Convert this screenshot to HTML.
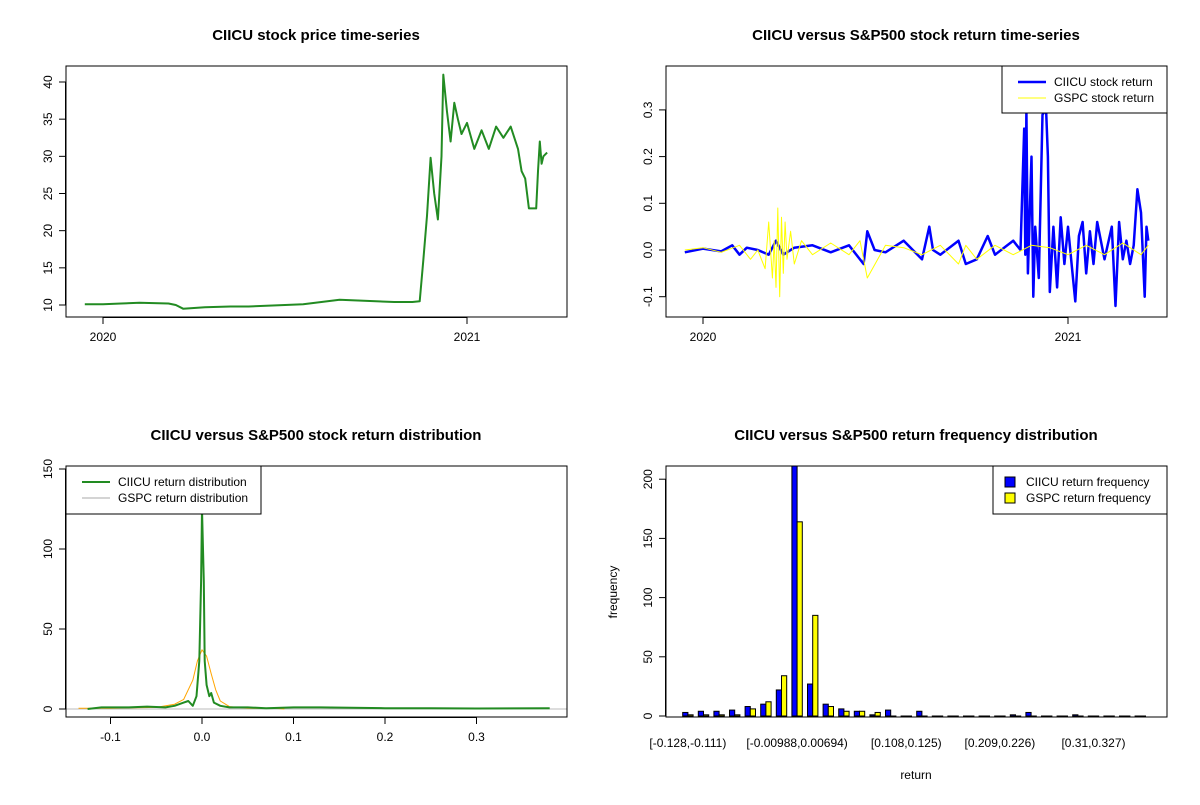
<!DOCTYPE html>
<html><head><meta charset="utf-8"><style>
body{margin:0;background:#fff}
svg{font-family:"Liberation Sans",Arial,sans-serif}
</style></head><body>
<svg id="s" width="1200" height="800" viewBox="0 0 1200 800" xmlns="http://www.w3.org/2000/svg"></svg>
<script>
// ---------- data ----------
const priceT=[2019.95,2020.0,2020.05,2020.1,2020.18,2020.2,2020.22,2020.28,2020.35,2020.4,2020.5,2020.55,2020.6,2020.65,2020.7,2020.75,2020.8,2020.85,2020.87,2020.88,2020.89,2020.9,2020.91,2020.92,2020.93,2020.935,2020.945,2020.955,2020.965,2020.975,2020.985,2021.0,2021.02,2021.04,2021.06,2021.08,2021.1,2021.12,2021.14,2021.15,2021.16,2021.17,2021.19,2021.195,2021.2,2021.205,2021.21,2021.22];
const priceV=[10.1,10.1,10.2,10.3,10.2,10.0,9.5,9.7,9.8,9.8,10.0,10.1,10.4,10.7,10.6,10.5,10.4,10.4,10.5,16,22,29.8,25,21.5,30,41,36,32,37.2,35,33,34.5,31,33.5,31,34,32.5,34,31,28,27,23,23,28,32,29,30,30.5];
const retT=[2019.95,2020.0,2020.05,2020.08,2020.1,2020.12,2020.15,2020.18,2020.2,2020.22,2020.25,2020.3,2020.35,2020.4,2020.44,2020.45,2020.47,2020.5,2020.55,2020.6,2020.62,2020.63,2020.65,2020.7,2020.72,2020.75,2020.78,2020.8,2020.85,2020.87,2020.88,2020.883,2020.886,2020.89,2020.9,2020.905,2020.91,2020.92,2020.93,2020.94,2020.945,2020.95,2020.96,2020.97,2020.98,2020.99,2021.0,2021.01,2021.02,2021.03,2021.04,2021.05,2021.06,2021.07,2021.08,2021.1,2021.12,2021.13,2021.14,2021.15,2021.16,2021.17,2021.18,2021.19,2021.2,2021.21,2021.215,2021.22];
const ciicuRet=[-0.005,0.003,-0.003,0.01,-0.01,0.005,0,-0.01,0.02,-0.01,0.005,0.01,-0.005,0.01,-0.03,0.04,0.0,-0.005,0.02,-0.02,0.05,0,-0.01,0.02,-0.03,-0.02,0.03,-0.01,0.02,0,0.26,-0.01,0.3,-0.05,0.2,-0.1,0.05,-0.06,0.29,0.3,0.2,-0.09,0.05,-0.08,0.07,-0.03,0.05,-0.03,-0.11,0.03,0.06,-0.05,0.04,-0.03,0.06,-0.02,0.05,-0.12,0.06,-0.02,0.02,-0.03,0.01,0.13,0.08,-0.1,0.05,0.02];
const gspcT=[2019.95,2020.0,2020.05,2020.1,2020.13,2020.15,2020.17,2020.18,2020.19,2020.195,2020.2,2020.205,2020.21,2020.215,2020.22,2020.225,2020.23,2020.24,2020.25,2020.27,2020.3,2020.35,2020.4,2020.43,2020.45,2020.5,2020.55,2020.6,2020.65,2020.7,2020.72,2020.75,2020.8,2020.85,2020.9,2020.95,2021.0,2021.05,2021.1,2021.15,2021.2,2021.22];
const gspcRet=[0.0,0.005,-0.005,0.01,-0.02,0.0,-0.04,0.06,-0.06,0.02,-0.08,0.09,-0.1,0.07,-0.05,0.06,-0.02,0.04,-0.03,0.02,-0.01,0.015,-0.01,0.02,-0.06,0.01,0.005,-0.01,0.01,-0.03,0.01,-0.02,0.01,-0.01,0.01,0.005,-0.01,0.01,-0.01,0.015,-0.01,0.01];
const densX=[-0.125,-0.11,-0.1,-0.08,-0.06,-0.04,-0.03,-0.02,-0.015,-0.01,-0.006,-0.003,-0.001,0,0.002,0.003,0.005,0.008,0.01,0.013,0.02,0.03,0.05,0.07,0.1,0.13,0.2,0.25,0.3,0.38];
const densCIICU=[0,1,1,1,1.5,1,2,4,5,2,8,30,80,125,80,30,15,8,10,4,2,1,1,0.5,1,1,0.5,0.5,0.3,0.5];
const densGX=[-0.135,-0.1,-0.05,-0.03,-0.02,-0.01,-0.005,0,0.005,0.01,0.015,0.02,0.03,0.05,0.08,0.09];
const densGSPC=[0.5,0.5,1,3,6,18,30,37,33,22,12,5,1.5,0.5,0.5,0];
const binLabels=["[-0.128,-0.111)","[-0.00988,0.00694)","[0.108,0.125)","[0.209,0.226)","[0.31,0.327)"];
const binLabelIdx=[0,7,14,20,26];
const freqCIICU=[3,4,4,5,8,10,22,240,27,10,6,4,1,5,0,4,0,0,0,0,0,1,3,0,0,1,0,0,0,0];
const freqGSPC=[1,1,1,1,6,12,34,164,85,8,4,4,3,0,0,0,0,0,0,0,0,0,0,0,0,0,0,0,0,0];

// ---------- helpers ----------
const S=document.getElementById('s'),NS='http://www.w3.org/2000/svg';
function el(t,a,p){const e=document.createElementNS(NS,t);for(const k in a)e.setAttribute(k,a[k]);(p||S).appendChild(e);return e;}
function txt(x,y,s,o){o=o||{};const e=el('text',{x:x,y:y,'font-size':o.fs||12,'text-anchor':o.a||'middle','font-weight':o.b?'bold':'normal',fill:'#000'});if(o.rot)e.setAttribute('transform','rotate(-90 '+x+' '+y+')');e.textContent=s;return e;}
function lin(d0,d1,r0,r1){return v=>r0+(v-d0)*(r1-r0)/(d1-d0);}
function box(x0,y0,x1,y1,name){const r=el('rect',{x:x0,y:y0,width:x1-x0,height:y1-y0,fill:'none',stroke:'#000'});}
function yaxis(x,ticks,sy,y0,y1,name){const g=el('g',{});el('line',{x1:x-0.5,x2:x-0.5,y1:sy(ticks[0]),y2:sy(ticks[ticks.length-1]),stroke:'#000'},g);ticks.forEach(t=>{el('line',{x1:x-7,x2:x,y1:sy(t),y2:sy(t),stroke:'#000'},g);const e=txt(x-14,sy(t),String(t),{rot:1});g.appendChild(e);});}
function xaxis(y,ticks,labels,sx,name){const g=el('g',{});el('line',{x1:sx(ticks[0]),x2:sx(ticks[ticks.length-1]),y1:y+0.5,y2:y+0.5,stroke:'#000'},g);ticks.forEach((t,i)=>{el('line',{x1:sx(t),x2:sx(t),y1:y,y2:y+7,stroke:'#000'},g);g.appendChild(txt(sx(t),y+24,labels[i]));});}
function path(xs,ys,sx,sy,col,w,name){const d=xs.map((x,i)=>(i?'L':'M')+sx(x).toFixed(1)+' '+sy(ys[i]).toFixed(1)).join('');const p=el('path',{d:d,fill:'none',stroke:col,'stroke-width':w,'stroke-linejoin':'round'});return p;}
function clip(id,x0,y0,x1,y1){const c=el('clipPath',{id:id});el('rect',{x:x0,y:y0,width:x1-x0,height:y1-y0},c);}
function legend(x0,y0,x1,y1,items,name){const g=el('g',{});el('rect',{x:x0,y:y0,width:x1-x0,height:y1-y0,fill:'#fff',stroke:'#000'},g);items.forEach((it,i)=>{const y=y0+16+i*16;if(it.fill){el('rect',{x:x0+12,y:y-5,width:10,height:10,fill:it.fill,stroke:'#000'},g);}else el('line',{x1:x0+16,x2:x0+44,y1:y,y2:y,stroke:it.c,'stroke-width':it.w},g);const t=txt(x0+(it.fill?33:52),y+4,it.t,{a:'start'});g.appendChild(t);});}

// ---------- panel 1 ----------
{const sx=lin(2020,2021,103,467),sy=lin(10,40,305,82);
txt(316,40,'CIICU stock price time-series',{fs:15,b:1});
clip('c1',66,66,567,317);
const p=path(priceT,priceV,sx,sy,'#228B22',2,'ciicu-price-line');p.setAttribute('clip-path','url(#c1)');
box(66,66,567,317,'price-plot-frame');
yaxis(66,[10,15,20,25,30,35,40],sy,0,0,'price-y-axis');
xaxis(317,[2020,2021],['2020','2021'],sx,'price-x-axis');}

// ---------- panel 2 ----------
{const sx=lin(2020,2021,703,1068),sy=lin(0,0.1,250,203.3);
txt(916,40,'CIICU versus S&P500 stock return time-series',{fs:15,b:1});
clip('c2',666,66,1167,317);
path(retT,ciicuRet,sx,sy,'#0000ff',2.5,'ciicu-return-line').setAttribute('clip-path','url(#c2)');
path(gspcT,gspcRet,sx,sy,'#ffff00',1,'gspc-return-line').setAttribute('clip-path','url(#c2)');
box(666,66,1167,317,'return-ts-plot-frame');
yaxis(666,[-0.1,0.0,0.1,0.2,0.3],sy,0,0,'return-ts-y-axis');
S.lastChild.querySelectorAll('text').forEach((t,i)=>t.textContent=['-0.1','0.0','0.1','0.2','0.3'][i]);
xaxis(317,[2020,2021],['2020','2021'],sx,'return-ts-x-axis');
legend(1002,66,1167,113,[{t:'CIICU stock return',c:'#0000ff',w:2.5},{t:'GSPC stock return',c:'#ffff00',w:1}],'return-ts-legend');}

// ---------- panel 3 ----------
{const sx=lin(0,0.1,202,293.5),sy=lin(0,50,709,629);
txt(316,440,'CIICU versus S&P500 stock return distribution',{fs:15,b:1});
clip('c3',66,466,567,717);
const z=el('line',{x1:66,x2:567,y1:sy(0),y2:sy(0),stroke:'#bbb'});
path(densGX,densGSPC,sx,sy,'#FFA500',1,'gspc-density-line').setAttribute('clip-path','url(#c3)');
path(densX,densCIICU,sx,sy,'#228B22',2,'ciicu-density-line').setAttribute('clip-path','url(#c3)');
box(66,466,567,717,'distribution-plot-frame');
yaxis(66,[0,50,100,150],sy,0,0,'distribution-y-axis');
xaxis(717,[-0.1,0,0.1,0.2,0.3],['-0.1','0.0','0.1','0.2','0.3'],sx,'distribution-x-axis');
legend(66,466,261,514,[{t:'CIICU return distribution',c:'#228B22',w:2},{t:'GSPC return distribution',c:'#aaa',w:1}],'distribution-legend');}

// ---------- panel 4 ----------
{const u=5.2,x0=677.5,sy=lin(0,50,716,656.8);
txt(916,440,'CIICU versus S&P500 return frequency distribution',{fs:15,b:1});
clip('c4',666,466,1167,717);
const g=el('g',{'clip-path':'url(#c4)'});
freqCIICU.forEach((v,i)=>{const x=x0+(1+3*i)*u;
const b=el('rect',{x:x,y:sy(v),width:u,height:Math.max(sy(0)-sy(v),0.01),fill:'#0000ff',stroke:'#000'},g);


const w=freqGSPC[i];const c=el('rect',{x:x+u,y:sy(w),width:u,height:Math.max(sy(0)-sy(w),0.01),fill:'#ffff00',stroke:'#000'},g);

});
box(666,466,1167,717,'frequency-plot-frame');
yaxis(666,[0,50,100,150,200],sy,0,0,'frequency-y-axis');
binLabelIdx.forEach((k,i)=>{const t=txt(x0+(2+3*k)*u,747,binLabels[i]);});
txt(916,779,'return');
txt(617,592,'frequency',{rot:1});
legend(993,466,1167,514,[{t:'CIICU return frequency',fill:'#0000ff'},{t:'GSPC return frequency',fill:'#ffff00'}],'frequency-legend');}
</script>
</body></html>
